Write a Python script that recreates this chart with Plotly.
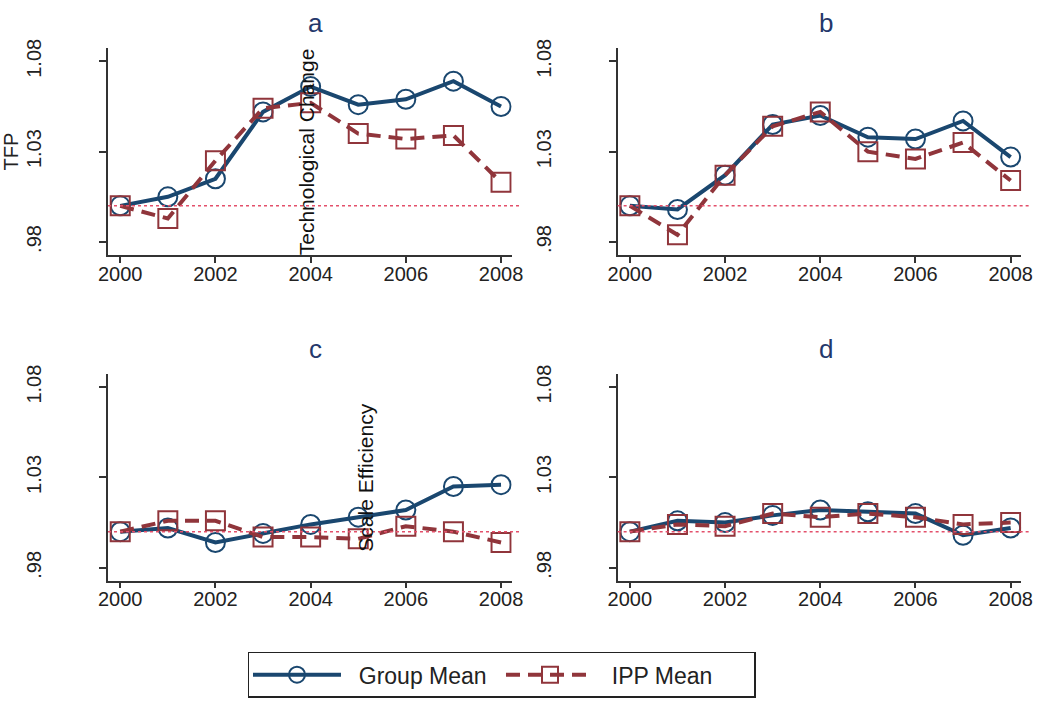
import plotly.graph_objects as go

# Years on the horizontal axis
years = [2000, 2001, 2002, 2003, 2004, 2005, 2006, 2007, 2008]

# Panel a: technological change
a_group = [1.000, 1.005, 1.015, 1.052, 1.066, 1.056, 1.059, 1.069, 1.055]
a_ipp = [1.000, 0.993, 1.025, 1.054, 1.057, 1.040, 1.037, 1.039, 1.013]

# Panel b
b_group = [1.000, 0.998, 1.017, 1.045, 1.050, 1.038, 1.037, 1.047, 1.027]
b_ipp = [1.000, 0.984, 1.017, 1.044, 1.052, 1.030, 1.026, 1.035, 1.014]

# Panel c: scale efficiency
c_group = [1.000, 1.002, 0.994, 0.999, 1.004, 1.008, 1.012, 1.025, 1.026]
c_ipp = [1.000, 1.006, 1.006, 0.997, 0.997, 0.996, 1.003, 1.000, 0.994]

# Panel d
d_group = [1.000, 1.006, 1.005, 1.009, 1.012, 1.011, 1.010, 0.998, 1.002]
d_ipp = [1.000, 1.004, 1.003, 1.010, 1.008, 1.010, 1.008, 1.004, 1.005]

panel_letters = ["a", "b", "c", "d"]
x_ticks = [2000, 2002, 2004, 2006, 2008]
y_ticks = [0.98, 1.03, 1.08]
y_ticktext = [".98", "1.03", "1.08"]
baseline = 1.0

NAVY = "#1a476f"
MAROON = "#90353b"
AXIS = "#333333"
FONT = "Liberation Sans, Arial, Helvetica, sans-serif"
W, H = 1053, 704

panels = [(a_group, a_ipp), (b_group, b_ipp), (c_group, c_ipp), (d_group, d_ipp)]

# Pixel boxes of each plot region: (left, right, top, bottom)
boxes = [(100, 512, 40, 249), (620, 1032, 40, 249),
         (100, 512, 370, 579), (620, 1032, 370, 579)]

fig = go.Figure()

for i, (grp, ipp) in enumerate(panels):
    n = i + 1
    xa = "x" if n == 1 else f"x{n}"
    ya = "y" if n == 1 else f"y{n}"
    fig.add_trace(go.Scatter(
        x=years, y=grp, xaxis=xa, yaxis=ya, mode="lines+markers",
        name="\u00a0\u00a0Group Mean", legendgroup="g", showlegend=(n == 1),
        line=dict(color=NAVY, width=4),
        marker=dict(symbol="circle-open", size=19, color=NAVY,
                    line=dict(width=2, color=NAVY)),
    ))
    fig.add_trace(go.Scatter(
        x=years, y=ipp, xaxis=xa, yaxis=ya, mode="lines+markers",
        name="\u00a0\u00a0IPP Mean", legendgroup="i", showlegend=(n == 1),
        line=dict(color=MAROON, width=4, dash="14px,8px"),
        marker=dict(symbol="square-open", size=19, color=MAROON,
                    line=dict(width=2, color=MAROON)),
    ))

    left, right, top, bottom = boxes[i]
    axis_common = dict(showgrid=False, zeroline=False, showline=True,
                       linecolor=AXIS, linewidth=1.5, ticks="outside",
                       tickcolor=AXIS, tickwidth=1.5, mirror=False,
                       tickfont=dict(family=FONT, size=20, color="#222222"))
    fig.layout[f"xaxis{'' if n == 1 else n}"] = dict(
        domain=[left / W, right / W], anchor=ya,
        range=[1999.743, 2008.226], tickvals=x_ticks, ticklen=6,
        ticklabelstandoff=-6, **axis_common)
    fig.layout[f"yaxis{'' if n == 1 else n}"] = dict(
        domain=[1 - bottom / H, 1 - top / H], anchor=xa,
        range=[0.9729, 1.0871], tickvals=y_ticks, ticktext=y_ticktext,
        tickangle=-90, ticklen=7, ticklabelstandoff=50, **axis_common)

    # Dotted reference line at the base value
    fig.add_shape(type="line", xref=f"{xa} domain", yref=ya,
                  x0=0, x1=1.025, y0=baseline, y1=baseline,
                  line=dict(color="#e3506b", width=1.5, dash="dot"))

    # Panel letter
    fig.add_annotation(text=panel_letters[i], xref=f"{xa} domain",
                       yref=f"{ya} domain", x=0.5, y=1, xshift=6, yshift=8,
                       xanchor="center", yanchor="bottom", showarrow=False,
                       font=dict(family=FONT, size=26, color="#24386b"))

fig.add_annotation(text="Technological Change", xref="x", yref="y",
                   x=2004, y=1.03, xshift=-4, textangle=-90,
                   xanchor="center", yanchor="middle", showarrow=False,
                   font=dict(family=FONT, size=21, color="#111111"))
fig.add_annotation(text="Scale Efficiency", xref="x3", yref="y3",
                   x=2005, y=1.03, xshift=7, textangle=-90,
                   xanchor="center", yanchor="middle", showarrow=False,
                   font=dict(family=FONT, size=21, color="#111111"))

# Y-axis label of the first panel
fig.layout.yaxis.title = dict(text="TFP", standoff=0,
                              font=dict(family=FONT, size=20, color="#222222"))

fig.update_layout(
    width=W, height=H, margin=dict(l=0, r=0, t=0, b=0),
    paper_bgcolor="white", plot_bgcolor="white",
    font=dict(family=FONT),
    legend=dict(orientation="h", x=502 / W, y=0.009, xanchor="center",
                yanchor="bottom", bordercolor="#222222", borderwidth=1.5,
                itemwidth=88, entrywidth=150,
                font=dict(family=FONT, size=23, color="#222222")),
)

fig.write_html("out.html")
